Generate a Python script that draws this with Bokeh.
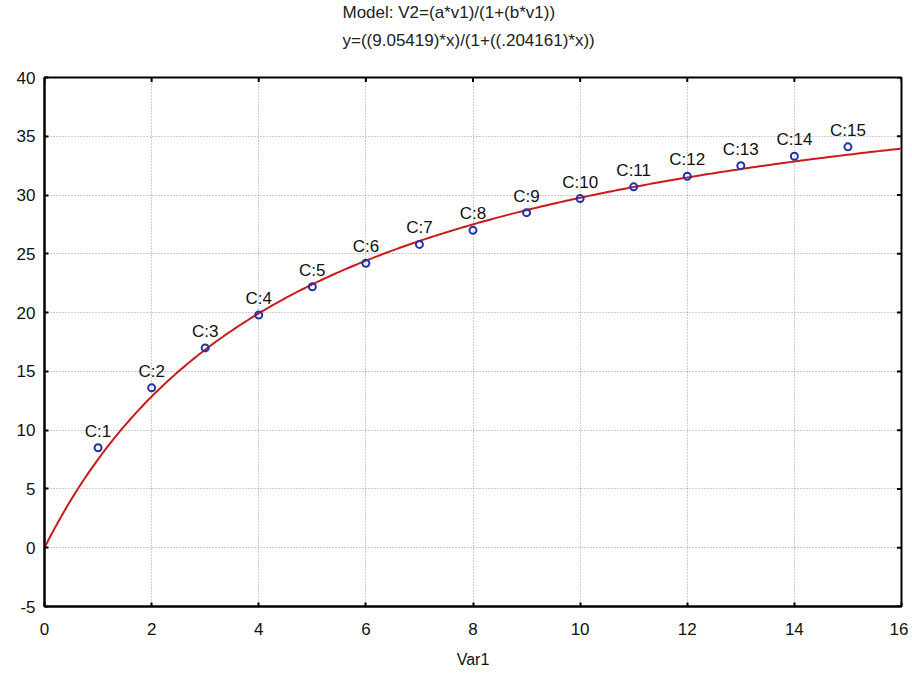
import numpy as np
from bokeh.plotting import figure
from bokeh.models import ColumnDataSource, Title, FixedTicker, Range1d
from bokeh.core.properties import value
from bokeh.embed import file_html
from bokeh.resources import INLINE

# ---- data ----
case_x = [1, 2, 3, 4, 5, 6, 7, 8, 9, 10, 11, 12, 13, 14, 15]
case_y = [8.5, 13.6, 17.0, 19.8, 22.2, 24.2, 25.8, 27.0, 28.5, 29.7, 30.7, 31.6, 32.5, 33.3, 34.1]
case_labels = ["C:1", "C:2", "C:3", "C:4", "C:5", "C:6", "C:7", "C:8", "C:9", "C:10",
               "C:11", "C:12", "C:13", "C:14", "C:15"]
param_a = 9.05419
param_b = 0.204161
x_ticks = [0, 2, 4, 6, 8, 10, 12, 14, 16]
y_ticks = [-5, 0, 5, 10, 15, 20, 25, 30, 35, 40]
y_tick_labels = {-5: "-5"}
x_min, x_max = 0, 16
y_min, y_max = -5, 40
title_line1 = "Model: V2=(a*v1)/(1+(b*v1))"
title_line2 = "y=((9.05419)*x)/(1+((.204161)*x))"
x_label = "Var1"

FONT = "Liberation Sans"

p = figure(width=908, height=673, x_range=Range1d(x_min, x_max), y_range=Range1d(y_min, y_max),
           output_backend="svg", toolbar_location=None,
           min_border_left=44, min_border_right=7, min_border_top=77, min_border_bottom=67)
p.title = None
p.background_fill_color = "white"
p.border_fill_color = "white"
p.outline_line_color = "black"
p.outline_line_width = 2

# two title lines plus a blank spacer line underneath
p.add_layout(Title(text=title_line1 + "\n" + title_line2 + "\n ", align="left",
                   text_font_size="17px", text_font_style="normal", text_font=FONT,
                   text_color="#222222", text_line_height=1.46, offset=298, standoff=0),
             "above")

# axes
for ax in (p.xaxis[0], p.yaxis[0]):
    ax.axis_line_width = 2
    ax.axis_line_color = "black"
    ax.major_tick_in = 4
    ax.major_tick_out = 0
    ax.major_tick_line_width = 2
    ax.minor_tick_line_color = None
    ax.major_label_text_font = FONT
    ax.major_label_text_font_size = "17px"
    ax.major_label_text_color = "#111111"
p.xaxis[0].ticker = FixedTicker(ticks=x_ticks)
p.yaxis[0].ticker = FixedTicker(ticks=y_ticks)
p.yaxis[0].major_label_overrides = y_tick_labels
p.xaxis[0].axis_label = x_label
p.xaxis[0].axis_label_text_font = FONT
p.xaxis[0].axis_label_text_font_size = "16px"
p.xaxis[0].axis_label_text_font_style = "normal"
p.xaxis[0].axis_label_text_color = "#111111"
p.xaxis[0].axis_label_standoff = 13
p.xaxis[0].major_label_standoff = 16
p.yaxis[0].major_label_standoff = 9

# grid
p.xgrid.ticker = FixedTicker(ticks=x_ticks)
p.ygrid.ticker = FixedTicker(ticks=y_ticks)
for g in (p.xgrid[0], p.ygrid[0]):
    g.grid_line_color = "#999999"
    g.grid_line_dash = "1 2"
    g.grid_line_width = 1

# inner tick marks on the right and top edges
p.scatter([x_max] * len(y_ticks), y_ticks, marker="dash", size=9, line_color="black",
          line_width=2)
p.scatter(x_ticks, [y_max] * len(x_ticks), marker="dash", angle=np.pi / 2, size=9,
          line_color="black", line_width=2)

# fitted curve from the model parameters
xs = np.linspace(x_min, x_max, 300)
ys = param_a * xs / (1 + param_b * xs)
p.line(xs, ys, line_color="#cc1a1a", line_width=2)

src = ColumnDataSource(dict(x=case_x, y=case_y, label=case_labels))
p.scatter("x", "y", source=src, marker="circle", size=7, fill_color=None,
          line_color="#2233aa", line_width=2)
p.text("x", "y", text="label", source=src, text_align="center", text_baseline="bottom",
       y_offset=-7, text_font=value(FONT), text_font_size="17px", text_color="#111111")

open("out.html", "w").write(file_html(p, INLINE))
